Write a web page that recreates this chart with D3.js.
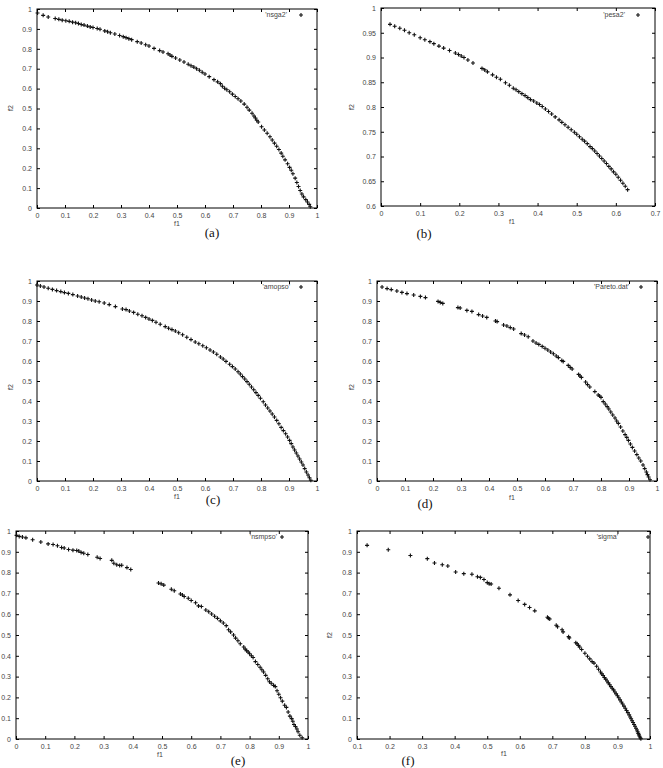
<!DOCTYPE html>
<html>
<head>
<meta charset="utf-8">
<script src="https://cdn.jsdelivr.net/npm/d3@7"></script>
<style>
  body { margin: 0; background: #fff; }
  svg { display: block; }
  .tick text { font-family: "Liberation Sans", Arial, sans-serif; font-size: 7px; fill: #444; }
  .lbl { font-family: "Liberation Sans", Arial, sans-serif; font-size: 7px; fill: #444; }
  .cap { font-family: "Liberation Serif", "Times New Roman", serif; font-size: 13px; fill: #111; }
</style>
</head>
<body>
<svg id="fig" width="663" height="768"></svg>
<script>
// tick values
const ticks01 = [0, 0.1, 0.2, 0.3, 0.4, 0.5, 0.6, 0.7, 0.8, 0.9, 1];
const pesaXTicks = [0, 0.1, 0.2, 0.3, 0.4, 0.5, 0.6, 0.7];
const pesaYTicks = [0.6, 0.65, 0.7, 0.75, 0.8, 0.85, 0.9, 0.95, 1];
const sigmaXTicks = [0.1, 0.2, 0.3, 0.4, 0.5, 0.6, 0.7, 0.8, 0.9, 1];

// (a) nsga2 front, [f1, f2]
const nsga2 = [[0.002,0.980],[0.022,0.968],[0.040,0.960],[0.065,0.952],[0.078,0.948],[0.090,0.944],[0.103,0.941],[0.115,0.938],[0.127,0.934],[0.138,0.931],[0.148,0.927],[0.158,0.922],[0.168,0.919],[0.180,0.914],[0.190,0.910],[0.200,0.907],[0.215,0.902],[0.225,0.898],[0.242,0.890],[0.252,0.886],[0.262,0.881],[0.278,0.874],[0.295,0.867],[0.308,0.861],[0.318,0.856],[0.328,0.851],[0.338,0.846],[0.358,0.836],[0.372,0.829],[0.388,0.820],[0.400,0.814],[0.418,0.802],[0.438,0.791],[0.450,0.784],[0.468,0.775],[0.475,0.769],[0.482,0.762],[0.495,0.754],[0.510,0.744],[0.525,0.734],[0.540,0.722],[0.550,0.715],[0.560,0.708],[0.570,0.700],[0.580,0.692],[0.590,0.682],[0.600,0.673],[0.615,0.660],[0.632,0.645],[0.645,0.634],[0.655,0.625],[0.662,0.612],[0.670,0.602],[0.678,0.594],[0.688,0.584],[0.698,0.572],[0.708,0.560],[0.718,0.549],[0.728,0.538],[0.740,0.522],[0.750,0.506],[0.758,0.492],[0.768,0.476],[0.775,0.462],[0.780,0.452],[0.785,0.441],[0.790,0.432],[0.802,0.408],[0.812,0.392],[0.822,0.376],[0.832,0.358],[0.840,0.342],[0.848,0.326],[0.856,0.310],[0.864,0.294],[0.872,0.276],[0.878,0.260],[0.886,0.242],[0.895,0.222],[0.902,0.204],[0.908,0.190],[0.914,0.172],[0.922,0.150],[0.928,0.128],[0.934,0.108],[0.940,0.088],[0.946,0.070],[0.952,0.056],[0.960,0.042],[0.966,0.030],[0.972,0.018],[0.976,0.006]];

// (b) pesa2
const pesa2 = [[0.023,0.967],[0.035,0.963],[0.048,0.959],[0.060,0.955],[0.072,0.950],[0.085,0.946],[0.100,0.940],[0.112,0.936],[0.125,0.932],[0.135,0.928],[0.148,0.923],[0.160,0.919],[0.175,0.914],[0.190,0.909],[0.198,0.906],[0.205,0.903],[0.212,0.900],[0.222,0.895],[0.235,0.889],[0.258,0.878],[0.265,0.875],[0.272,0.871],[0.285,0.865],[0.295,0.860],[0.305,0.856],[0.318,0.849],[0.328,0.844],[0.338,0.838],[0.345,0.835],[0.352,0.831],[0.360,0.827],[0.368,0.823],[0.375,0.819],[0.382,0.815],[0.390,0.812],[0.398,0.808],[0.405,0.805],[0.412,0.801],[0.420,0.796],[0.428,0.791],[0.436,0.786],[0.445,0.780],[0.455,0.774],[0.462,0.769],[0.470,0.764],[0.478,0.759],[0.486,0.754],[0.494,0.749],[0.500,0.745],[0.507,0.740],[0.514,0.735],[0.520,0.731],[0.527,0.726],[0.534,0.720],[0.540,0.716],[0.546,0.711],[0.552,0.706],[0.558,0.701],[0.564,0.696],[0.570,0.691],[0.576,0.686],[0.582,0.680],[0.588,0.675],[0.594,0.669],[0.600,0.664],[0.606,0.658],[0.612,0.652],[0.618,0.646],[0.624,0.640],[0.630,0.633]];

// (c) amopso
const amopso = [[0.000,0.980],[0.012,0.975],[0.025,0.970],[0.040,0.964],[0.055,0.958],[0.070,0.952],[0.085,0.947],[0.098,0.942],[0.112,0.938],[0.128,0.932],[0.145,0.925],[0.158,0.920],[0.170,0.915],[0.182,0.911],[0.195,0.905],[0.208,0.900],[0.222,0.896],[0.240,0.890],[0.258,0.882],[0.280,0.872],[0.305,0.860],[0.318,0.857],[0.330,0.850],[0.345,0.843],[0.360,0.834],[0.375,0.826],[0.388,0.818],[0.400,0.810],[0.412,0.803],[0.425,0.794],[0.440,0.784],[0.458,0.772],[0.470,0.764],[0.482,0.757],[0.494,0.750],[0.506,0.741],[0.520,0.731],[0.535,0.719],[0.550,0.707],[0.565,0.695],[0.578,0.686],[0.592,0.676],[0.605,0.666],[0.618,0.655],[0.630,0.645],[0.642,0.634],[0.655,0.620],[0.665,0.610],[0.675,0.598],[0.688,0.584],[0.698,0.572],[0.708,0.560],[0.718,0.546],[0.726,0.535],[0.734,0.522],[0.742,0.510],[0.750,0.497],[0.758,0.484],[0.766,0.470],[0.774,0.456],[0.782,0.442],[0.790,0.428],[0.798,0.414],[0.808,0.396],[0.816,0.380],[0.824,0.365],[0.832,0.350],[0.840,0.335],[0.848,0.320],[0.856,0.303],[0.864,0.286],[0.872,0.268],[0.880,0.252],[0.888,0.236],[0.895,0.220],[0.902,0.203],[0.908,0.187],[0.914,0.170],[0.920,0.155],[0.926,0.140],[0.932,0.125],[0.938,0.110],[0.944,0.095],[0.950,0.080],[0.956,0.062],[0.962,0.045],[0.968,0.030],[0.973,0.016],[0.978,0.004]];

// (d) true Pareto front
const paretoDat = [[0.018,0.970],[0.036,0.962],[0.051,0.957],[0.071,0.950],[0.089,0.943],[0.107,0.937],[0.131,0.930],[0.155,0.923],[0.173,0.917],[0.218,0.898],[0.226,0.893],[0.235,0.888],[0.289,0.867],[0.297,0.865],[0.321,0.853],[0.339,0.848],[0.363,0.832],[0.377,0.825],[0.392,0.818],[0.423,0.800],[0.429,0.797],[0.452,0.780],[0.464,0.775],[0.476,0.767],[0.488,0.760],[0.515,0.737],[0.527,0.730],[0.540,0.721],[0.557,0.700],[0.568,0.690],[0.578,0.683],[0.590,0.673],[0.600,0.664],[0.610,0.655],[0.620,0.645],[0.630,0.636],[0.640,0.625],[0.648,0.617],[0.660,0.602],[0.665,0.598],[0.683,0.578],[0.690,0.568],[0.697,0.560],[0.720,0.533],[0.725,0.525],[0.730,0.518],[0.745,0.495],[0.752,0.482],[0.760,0.470],[0.778,0.447],[0.790,0.430],[0.795,0.425],[0.800,0.418],[0.808,0.397],[0.815,0.385],[0.822,0.372],[0.828,0.360],[0.835,0.345],[0.842,0.330],[0.850,0.315],[0.856,0.300],[0.862,0.288],[0.870,0.270],[0.878,0.250],[0.886,0.232],[0.892,0.218],[0.898,0.203],[0.905,0.185],[0.912,0.168],[0.920,0.150],[0.928,0.132],[0.935,0.115],[0.942,0.100],[0.950,0.080],[0.956,0.062],[0.962,0.045],[0.966,0.032],[0.970,0.020],[0.975,0.006]];

// (e) nsmpso
const nsmpso = [[0.002,0.979],[0.011,0.974],[0.022,0.971],[0.034,0.967],[0.057,0.958],[0.085,0.947],[0.110,0.938],[0.127,0.935],[0.142,0.929],[0.156,0.921],[0.165,0.918],[0.180,0.911],[0.195,0.908],[0.208,0.906],[0.215,0.904],[0.223,0.897],[0.232,0.893],[0.246,0.887],[0.278,0.874],[0.288,0.868],[0.328,0.859],[0.335,0.845],[0.345,0.838],[0.355,0.834],[0.362,0.835],[0.380,0.824],[0.393,0.815],[0.488,0.750],[0.497,0.746],[0.506,0.740],[0.532,0.720],[0.542,0.713],[0.563,0.697],[0.570,0.692],[0.576,0.685],[0.590,0.677],[0.600,0.666],[0.615,0.655],[0.625,0.640],[0.635,0.637],[0.650,0.620],[0.660,0.612],[0.670,0.601],[0.680,0.590],[0.690,0.580],[0.700,0.568],[0.710,0.558],[0.720,0.545],[0.728,0.525],[0.735,0.515],[0.745,0.500],[0.752,0.485],[0.760,0.472],[0.768,0.458],[0.780,0.442],[0.785,0.432],[0.790,0.424],[0.795,0.418],[0.800,0.410],[0.806,0.400],[0.812,0.392],[0.820,0.372],[0.828,0.358],[0.836,0.345],[0.842,0.333],[0.848,0.322],[0.855,0.306],[0.862,0.290],[0.868,0.275],[0.874,0.268],[0.882,0.258],[0.888,0.252],[0.894,0.232],[0.900,0.215],[0.906,0.198],[0.912,0.182],[0.920,0.162],[0.926,0.152],[0.932,0.130],[0.938,0.110],[0.944,0.098],[0.948,0.085],[0.952,0.070],[0.957,0.060],[0.962,0.048],[0.966,0.035],[0.972,0.018],[0.980,0.006]];

// (f) sigma
const sigma = [[0.131,0.931],[0.196,0.910],[0.264,0.882],[0.316,0.867],[0.338,0.846],[0.362,0.838],[0.379,0.832],[0.403,0.803],[0.428,0.795],[0.453,0.792],[0.470,0.780],[0.479,0.777],[0.490,0.767],[0.500,0.752],[0.506,0.746],[0.512,0.745],[0.536,0.725],[0.570,0.693],[0.595,0.666],[0.615,0.647],[0.630,0.632],[0.646,0.616],[0.685,0.585],[0.688,0.580],[0.692,0.577],[0.712,0.547],[0.716,0.540],[0.730,0.525],[0.733,0.515],[0.750,0.492],[0.752,0.486],[0.772,0.463],[0.776,0.458],[0.780,0.450],[0.784,0.442],[0.790,0.430],[0.800,0.412],[0.808,0.398],[0.815,0.385],[0.822,0.372],[0.828,0.365],[0.836,0.350],[0.842,0.335],[0.848,0.322],[0.852,0.313],[0.856,0.305],[0.860,0.296],[0.864,0.288],[0.868,0.279],[0.872,0.270],[0.876,0.261],[0.880,0.252],[0.884,0.244],[0.888,0.236],[0.892,0.226],[0.896,0.217],[0.900,0.208],[0.904,0.198],[0.908,0.188],[0.912,0.178],[0.916,0.168],[0.920,0.158],[0.924,0.148],[0.928,0.137],[0.932,0.127],[0.936,0.116],[0.939,0.106],[0.942,0.097],[0.945,0.088],[0.948,0.079],[0.951,0.070],[0.954,0.061],[0.957,0.052],[0.960,0.043],[0.962,0.035],[0.964,0.027],[0.966,0.020],[0.968,0.013],[0.970,0.006],[0.972,0.001]];

const svg = d3.select('#fig');
const plus = 'M-2,0H2M0,-2V2';

const panels = [
  { data: nsga2, name: "'nsga2'", cap: '(a)', box: [37, 317, 9, 208], xd: [0, 1], yd: [0, 1], xt: ticks01, yt: ticks01,
    f1: [177, 224], f2: [11, 108], capPos: [212, 237], key: [301, 15, 287] },
  { data: pesa2, name: "'pesa2'", cap: '(b)', box: [381, 655, 8, 206], xd: [0, 0.7], yd: [0.6, 1], xt: pesaXTicks, yt: pesaYTicks,
    f1: [512, 222], f2: [352, 107], capPos: [424, 238], key: [638, 15, 625] },
  { data: amopso, name: "'amopso'", cap: '(c)', box: [37, 317, 281, 481], xd: [0, 1], yd: [0, 1], xt: ticks01, yt: ticks01,
    f1: [177, 497], f2: [11, 387], capPos: [213, 504], key: [301, 287, 290] },
  { data: paretoDat, name: "'Pareto.dat'", cap: '(d)', box: [377, 657, 281, 481], xd: [0, 1], yd: [0, 1], xt: ticks01, yt: ticks01,
    f1: [512, 498], f2: [352, 387], capPos: [425, 508], key: [641, 287, 629] },
  { data: nsmpso, name: "'nsmpso'", cap: '(e)', box: [16, 308, 531, 739], xd: [0, 1], yd: [0, 1], xt: ticks01, yt: ticks01,
    f1: [160, 755], f2: null, capPos: [238, 765], key: [282, 537, 277] },
  { data: sigma, name: "'sigma'", cap: '(f)', box: [357, 650, 531, 739], xd: [0.1, 1], yd: [0, 1], xt: sigmaXTicks, yt: ticks01,
    f1: [504, 754], f2: [330, 635], capPos: [408, 765], key: [648, 537, 618] }
];

panels.forEach(p => {
  const [left, right, top, bottom] = p.box;
  const x = d3.scaleLinear().domain(p.xd).range([left, right]);
  const y = d3.scaleLinear().domain(p.yd).range([bottom, top]);
  const g = svg.append('g');

  // bottom / left axes, ticks pointing inward
  g.append('g')
    .attr('transform', 'translate(0,' + bottom + ')')
    .call(d3.axisBottom(x).tickValues(p.xt).tickFormat(d3.format('~g')).tickSizeInner(-3).tickSizeOuter(0).tickPadding(5));
  g.append('g')
    .attr('transform', 'translate(' + left + ',0)')
    .call(d3.axisLeft(y).tickValues(p.yt).tickFormat(d3.format('~g')).tickSizeInner(-3).tickSizeOuter(0).tickPadding(5));
  // mirrored ticks on top / right
  g.append('g')
    .attr('transform', 'translate(0,' + top + ')')
    .call(d3.axisTop(x).tickValues(p.xt).tickFormat('').tickSizeInner(-3).tickSizeOuter(0));
  g.append('g')
    .attr('transform', 'translate(' + right + ',0)')
    .call(d3.axisRight(y).tickValues(p.yt).tickFormat('').tickSizeInner(-3).tickSizeOuter(0));

  g.selectAll('.domain').remove();
  g.selectAll('.tick line').attr('stroke', '#000');

  g.append('rect')
    .attr('x', left).attr('y', top)
    .attr('width', right - left).attr('height', bottom - top)
    .attr('fill', 'none').attr('stroke', '#000').attr('stroke-width', 1);

  // points
  g.append('g').selectAll('path')
    .data(p.data)
    .join('path')
    .attr('d', plus)
    .attr('transform', d => 'translate(' + x(d[0]) + ',' + y(d[1]) + ')')
    .attr('stroke', '#111')
    .attr('stroke-width', 1.1)
    .attr('fill', 'none');

  // key
  g.append('text').attr('class', 'lbl')
    .attr('x', p.key[2]).attr('y', p.key[1]).attr('dy', '0.35em')
    .attr('text-anchor', 'end').text(p.name);
  g.append('path').attr('d', plus)
    .attr('transform', 'translate(' + p.key[0] + ',' + p.key[1] + ')')
    .attr('stroke', '#111').attr('stroke-width', 1.1);

  // axis labels
  g.append('text').attr('class', 'lbl')
    .attr('x', p.f1[0]).attr('y', p.f1[1]).attr('dy', '0.35em')
    .attr('text-anchor', 'middle').text('f1');
  if (p.f2) {
    g.append('text').attr('class', 'lbl')
      .attr('transform', 'translate(' + p.f2[0] + ',' + p.f2[1] + ') rotate(-90)')
      .attr('dy', '0.35em')
      .attr('text-anchor', 'middle').text('f2');
  }

  // caption
  g.append('text').attr('class', 'cap')
    .attr('x', p.capPos[0]).attr('y', p.capPos[1])
    .attr('text-anchor', 'middle').text(p.cap);
});
</script>
</body>
</html>
